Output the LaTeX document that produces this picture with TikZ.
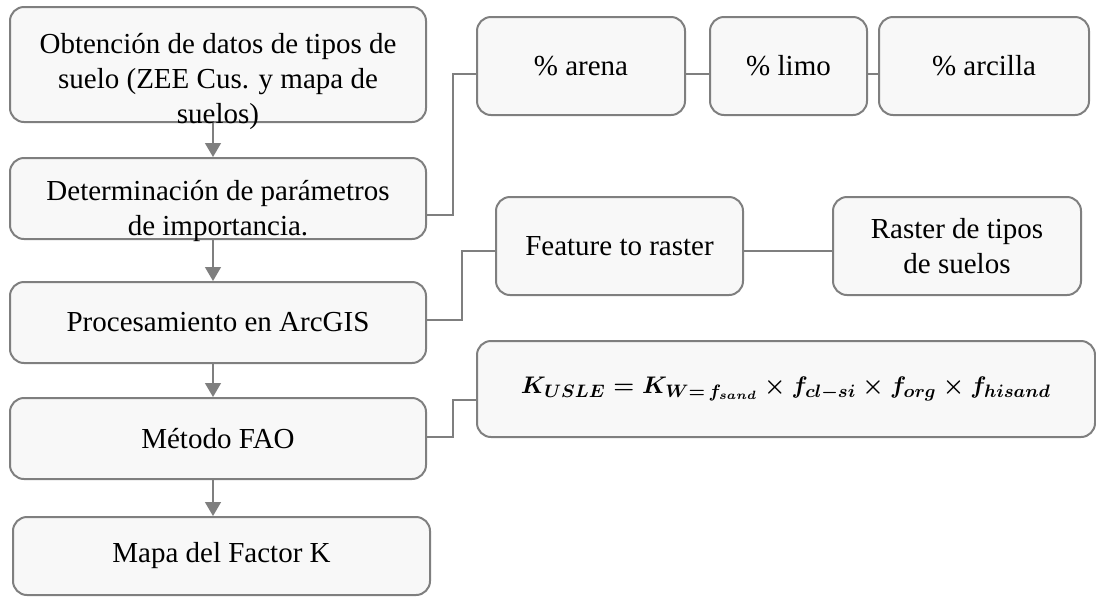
\documentclass[tikz,border=0pt]{standalone}
\usepackage{amsmath, amssymb}
\usepackage{fontspec}
\setmainfont{Liberation Serif}
\usetikzlibrary{arrows.meta, positioning, calc}

\definecolor{boxgray}{HTML}{7F7F7F}
\definecolor{boxfill}{HTML}{F8F8F8}

\begin{document}
\begin{tikzpicture}[x=0.5pt, y=-0.5pt,
  box/.style={draw=boxgray, line width=1pt, fill=boxfill, rounded corners=7pt,
    align=center, inner sep=2pt, font=\fontsize{14.5}{17.5}\selectfont},
  boxtext/.style={align=center, font=\fontsize{14.5}{17.5}\selectfont},
  link/.style={draw=boxgray, line width=0.7pt},
  flow/.style={link, -{Triangle[width=8pt, length=7pt]}}]

  \useasboundingbox (0,0) rectangle (1096,596);

  % Main column
  \node[box, minimum width=208pt, minimum height=57.5pt,
    label={[boxtext, yshift=-8.25pt]center:Obtención de datos de tipos de\\suelo (ZEE Cus. y mapa de\\suelos)}]
    (obt) at (218,64.5) {};
  \node[box, minimum width=208pt, minimum height=40.5pt,
    label={[boxtext, yshift=-6.25pt]center:Determinación de parámetros\\de importancia.}]
    (det) at (218,198.5) {};
  \node[box, minimum width=208pt, minimum height=40.5pt] (proc) at (218,322.5) {Procesamiento en ArcGIS};
  \node[box, minimum width=208pt, minimum height=40.5pt] (fao) at (218,438.5) {Método FAO};
  \node[box, minimum width=208.5pt, minimum height=39pt] (mapa) at (221.5,556) {\raisebox{-1.5pt}{Mapa del Factor K}};

  % Soil texture parameters
  \node[box, minimum width=104pt, minimum height=49pt] (arena) at (581,66) {\% arena};
  \node[box, minimum width=78.5pt, minimum height=49pt] (limo) at (788.5,66) {\% limo};
  \node[box, minimum width=105pt, minimum height=49pt] (arcilla) at (984,66) {\% arcilla};

  % ArcGIS steps
  \node[box, minimum width=123.5pt, minimum height=49pt] (feature) at (619.5,246) {Feature to raster};
  \node[box, minimum width=124pt, minimum height=49pt] (raster) at (957,246) {Raster de tipos\\de suelos};

  % Equation
  \node[box, minimum width=309pt, minimum height=48pt, font=\fontsize{12.5}{15}\selectfont\boldmath]
    (formula) at (786,389)
    {$K_{USLE} = K_{W=\,f_{sand}} \times f_{cl-si} \times f_{org} \times f_{hisand}$};

  % Arrows down the column
  \foreach \a/\b in {obt/det, det/proc, proc/fao, fao/mapa} {
    \draw[flow] ([xshift=-2.5pt]\a.south) -- ([xshift=-2.5pt]\a.south |- \b.north);
  }

  % Side links
  \draw[link] ([yshift=-8.25pt]det.east) -- ++(26,0) |- ([yshift=-4pt]arena.west);
  \foreach \a/\b in {arena/limo, limo/arcilla} {
    \draw[link] ([yshift=-4pt]\a.east) -- ([yshift=-4pt]\b.west);
  }
  \draw[link] ([yshift=1.25pt]proc.east) -- ++(35,0) |- ([yshift=-2.5pt]feature.west);
  \draw[link] ([yshift=-2.5pt]feature.east) -- ([yshift=-2.5pt]raster.west);
  \draw[link] ([yshift=0.75pt]fao.east) -- ++(26,0) |- ([yshift=-5.5pt]formula.west);
\end{tikzpicture}
\end{document}
